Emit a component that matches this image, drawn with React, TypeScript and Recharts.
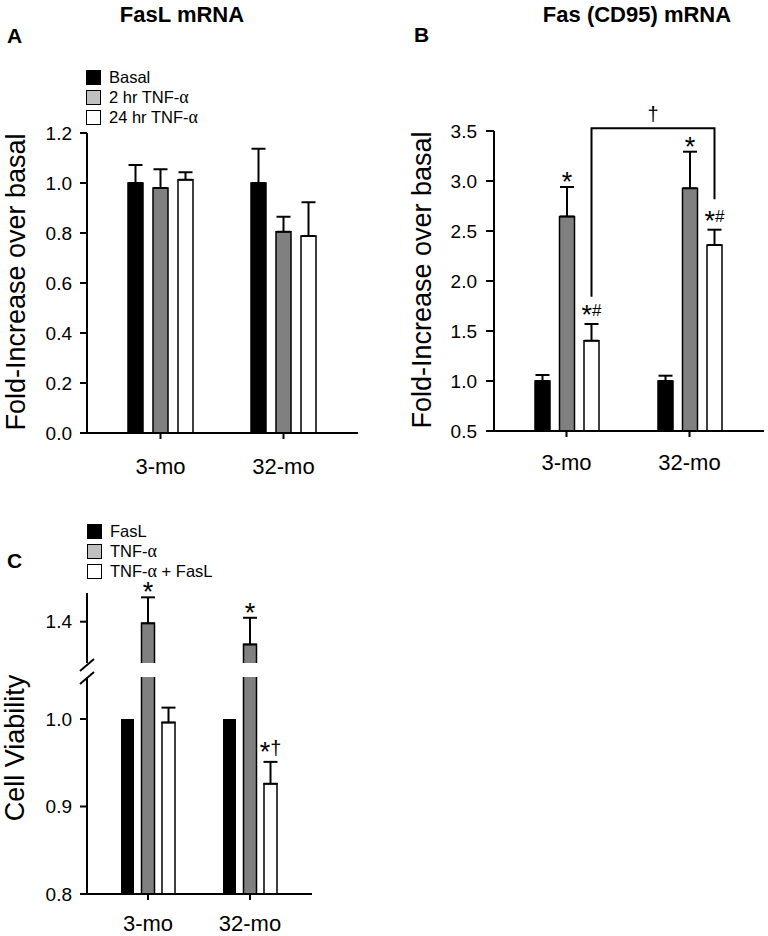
import { Bar, BarChart, ErrorBar, LabelList, Legend, XAxis, YAxis } from "recharts";

const FONT = '"Liberation Sans", Arial, Helvetica, sans-serif';
const SERIF = '"Liberation Serif", "Times New Roman", serif';
const BLACK = "#000000";
const GRAY = "#808080";
const LEGEND_GRAY = "#c0c0c0";
const WHITE = "#ffffff";

const categories = ["3-mo", "32-mo"];

// A: FasL mRNA
const fasLSeries = ["Basal", "2 hr TNF-α", "24 hr TNF-α"];
const fasLBasal = [1.0, 1.0];
const fasLBasalErr = [0.072, 0.137];
const fasL2hr = [0.98, 0.805];
const fasL2hrErr = [0.075, 0.06];
const fasL24hr = [1.013, 0.788];
const fasL24hrErr = [0.03, 0.135];
const fasLTicks = [0, 0.2, 0.4, 0.6, 0.8, 1.0, 1.2];

// B: Fas (CD95) mRNA
const fasBasal = [1.0, 1.0];
const fasBasalErr = [0.06, 0.053];
const fas2hr = [2.645, 2.927];
const fas2hrErr = [0.295, 0.366];
const fas24hr = [1.403, 2.36];
const fas24hrErr = [0.167, 0.153];
const fas2hrMarks = ["*", "*"];
const fas24hrMarks = ["*#", "*#"];
const fasBracketTop = 3.527;
const fasBracketEnds = [1.843, 2.817];
const fasBracketMark = "†";
const fasTicks = [0.5, 1.0, 1.5, 2.0, 2.5, 3.0, 3.5];

// C: cell viability (broken axis)
const viabSeries = ["FasL", "TNF-α", "TNF-α + FasL"];
const viabFasL = [1.0, 1.0];
const viabTnf = [1.392, 1.29];
const viabTnfErr = [0.126, 0.129];
const viabBoth = [0.996, 0.926];
const viabBothErr = [0.017, 0.025];
const viabTnfMarks = ["*", "*"];
const viabBothMarks = ["", "*†"];
const viabLowTicks = [0.8, 0.9, 1.0];
const viabHighTicks = [1.4];

const FAS_BASE = 0.5;
const VIAB_LOW_DOMAIN: [number, number] = [0.8, 1.048];
const VIAB_HIGH_DOMAIN: [number, number] = [1.2, 1.539];

const fasLData = categories.map((cat, i) => ({
  cat,
  basal: fasLBasal[i],
  basalErr: [0, fasLBasalErr[i]],
  tnf2: fasL2hr[i],
  tnf2Err: [0, fasL2hrErr[i]],
  tnf24: fasL24hr[i],
  tnf24Err: [0, fasL24hrErr[i]],
}));

const fasData = categories.map((cat, i) => ({
  cat,
  basal: fasBasal[i],
  basalErr: [0, fasBasalErr[i]],
  tnf2: fas2hr[i],
  tnf2Err: [0, fas2hrErr[i]],
  tnf24: fas24hr[i],
  tnf24Err: [0, fas24hrErr[i]],
}));

const viabLowData = categories.map((cat, i) => ({
  cat,
  fasl: viabFasL[i],
  tnf: viabTnf[i],
  both: viabBoth[i],
  bothErr: [0, viabBothErr[i]],
}));

// upper segment only carries the TNF bars
const viabHighData = categories.map((cat, i) => ({
  cat,
  tnf: viabTnf[i],
  tnfErr: [0, viabTnfErr[i]],
}));

const AXIS = { stroke: BLACK, strokeWidth: 2 };
const YTICK = { fill: BLACK, fontSize: 19, fontFamily: FONT };
const XTICK = { fill: BLACK, fontSize: 22, fontFamily: FONT };
const fmt = (v: number) => v.toFixed(1);

function withAlpha(label: string) {
  const parts = label.split("α");
  return parts.map((p, i) => (
    <span key={i}>
      {p}
      {i < parts.length - 1 && (
        <span style={{ fontFamily: SERIF, fontSize: 18 }}>α</span>
      )}
    </span>
  ));
}

// legend drawn from the series arrays (recharts sorts its payload by name)
function makeLegend(labels: string[], colors: string[]) {
  return () => (
    <div style={{ fontFamily: FONT, fontSize: 16.5, color: BLACK }}>
      {labels.map((label, i) => (
        <div
          key={label}
          style={{ display: "flex", alignItems: "center", height: 20, whiteSpace: "nowrap" }}
        >
          <span
            style={{
              display: "inline-block",
              width: 13,
              height: 13,
              background: colors[i],
              border: "1.5px solid #000",
              marginRight: 8,
            }}
          />
          <span>{withAlpha(label)}</span>
        </div>
      ))}
    </div>
  );
}

function barBox(props: any) {
  const vb = props.viewBox ?? {};
  return {
    x: Number(vb.x ?? props.x),
    y: Number(vb.y ?? props.y),
    w: Number(vb.width ?? props.width),
    h: Number(vb.height ?? props.height),
  };
}

// significance marks; `bottom` is where the ink of "*" and "#" ends
const MARK_SIZE: Record<string, number> = { "*": 27, "#": 17, "†": 20 };
const MARK_DROP: Record<string, number> = { "*": 8, "#": 0, "†": 2 };

function MarkText({ cx, bottom, mark }: { cx: number; bottom: number; mark: string }) {
  const chars = mark.split("");
  let shift = 0;
  return (
    <text x={cx} y={bottom} textAnchor="middle" fontFamily={FONT} fill={BLACK}>
      {chars.map((c, k) => {
        const target = MARK_DROP[c] ?? 0;
        const dy = target - shift;
        shift = target;
        return (
          <tspan key={k} fontSize={MARK_SIZE[c] ?? 19} dy={dy}>
            {c}
          </tspan>
        );
      })}
    </text>
  );
}

function makeMarkLabel(values: number[], errors: number[], marks: string[], base: number) {
  return (props: any) => {
    const i = props.index ?? 0;
    const mark = marks[i];
    if (!mark) return null;
    const { x, y, w, h } = barBox(props);
    const ppu = h / (values[i] - base);
    const errTop = y - errors[i] * ppu;
    const gap = mark.length > 1 ? 9 : 4;
    return <MarkText cx={x + w / 2} bottom={errTop - gap} mark={mark} />;
  };
}

let bracketLeftX = 0;
const renderFas24Label = (props: any) => {
  const i = props.index ?? 0;
  const { x, y, w, h } = barBox(props);
  const ppu = h / (fas24hr[i] - FAS_BASE);
  const cx = x + w / 2;
  const yOf = (v: number) => y + h - (v - FAS_BASE) * ppu;
  const errTop = yOf(fas24hr[i] + fas24hrErr[i]);
  if (i === 0) bracketLeftX = cx;
  const top = yOf(fasBracketTop);
  return (
    <g>
      <MarkText cx={cx} bottom={errTop - 8} mark={fas24hrMarks[i]} />
      {i === 1 && (
        <g>
          <path
            d={`M${bracketLeftX},${yOf(fasBracketEnds[0])} V${top} H${cx} V${yOf(fasBracketEnds[1])}`}
            fill="none"
            stroke={BLACK}
            strokeWidth={2}
          />
          <text
            x={(bracketLeftX + cx) / 2}
            y={top - 7}
            textAnchor="middle"
            fontFamily={FONT}
            fontSize={20}
            fill={BLACK}
          >
            {fasBracketMark}
          </text>
        </g>
      )}
    </g>
  );
};

// upper broken-axis bar: no bottom edge
const OpenBottomBar = (props: any) => {
  const { x, y, width, height, fill } = props;
  if (!height || height <= 0) return null;
  return (
    <g>
      <rect x={x} y={y} width={width} height={height} fill={fill} />
      <path
        d={`M${x},${y + height} V${y} H${x + width} V${y + height}`}
        fill="none"
        stroke={BLACK}
        strokeWidth={1.5}
      />
    </g>
  );
};

export default function App() {
  return (
    <div
      style={{
        position: "absolute",
        left: 0,
        top: 0,
        width: 768,
        height: 936,
        background: WHITE,
        fontFamily: FONT,
      }}
    >
      {/* A */}
      <div style={{ position: "absolute", left: 0, top: 0 }}>
        <BarChart
          width={384}
          height={500}
          data={fasLData}
          margin={{ top: 133, right: 26, bottom: 7, left: 0 }}
          barGap={10}
          barSize={15}
        >
          <XAxis
            dataKey="cat"
            height={60}
            padding={{ left: 12, right: 13 }}
            tickSize={6}
            tickMargin={19}
            axisLine={AXIS}
            tickLine={AXIS}
            tick={XTICK}
            interval={0}
          />
          <YAxis
            width={87}
            domain={[0, 1.2]}
            ticks={fasLTicks}
            tickFormatter={fmt}
            tickSize={7}
            tickMargin={8}
            axisLine={AXIS}
            tickLine={AXIS}
            tick={YTICK}
          />
          <Legend
            layout="horizontal"
            verticalAlign="middle"
            align="center"
            wrapperStyle={{ top: 67, left: 86, width: "auto" }}
            content={makeLegend(fasLSeries, [BLACK, LEGEND_GRAY, WHITE])}
          />
          <Bar dataKey="basal" name={fasLSeries[0]} fill={BLACK} stroke={BLACK} strokeWidth={1.5} isAnimationActive={false}>
            <ErrorBar dataKey="basalErr" width={7} strokeWidth={2} stroke={BLACK} direction="y" />
          </Bar>
          <Bar dataKey="tnf2" name={fasLSeries[1]} fill={GRAY} stroke={BLACK} strokeWidth={1.5} isAnimationActive={false}>
            <ErrorBar dataKey="tnf2Err" width={7} strokeWidth={2} stroke={BLACK} direction="y" />
          </Bar>
          <Bar dataKey="tnf24" name={fasLSeries[2]} fill={WHITE} stroke={BLACK} strokeWidth={1.5} isAnimationActive={false}>
            <ErrorBar dataKey="tnf24Err" width={7} strokeWidth={2} stroke={BLACK} direction="y" />
          </Bar>
        </BarChart>
      </div>

      {/* B */}
      <div style={{ position: "absolute", left: 384, top: 0 }}>
        <BarChart
          width={384}
          height={500}
          data={fasData}
          margin={{ top: 131, right: 4, bottom: 9, left: 0 }}
          barGap={9.5}
          barSize={15}
        >
          <XAxis
            dataKey="cat"
            height={60}
            padding={{ left: 11, right: 13 }}
            tickSize={6}
            tickMargin={17}
            axisLine={AXIS}
            tickLine={AXIS}
            tick={XTICK}
            interval={0}
          />
          <YAxis
            width={110}
            domain={[FAS_BASE, 3.5]}
            ticks={fasTicks}
            tickFormatter={fmt}
            tickSize={8}
            tickMargin={9}
            axisLine={AXIS}
            tickLine={AXIS}
            tick={YTICK}
          />
          <Bar dataKey="basal" fill={BLACK} stroke={BLACK} strokeWidth={1.5} isAnimationActive={false}>
            <ErrorBar dataKey="basalErr" width={7} strokeWidth={2} stroke={BLACK} direction="y" />
          </Bar>
          <Bar dataKey="tnf2" fill={GRAY} stroke={BLACK} strokeWidth={1.5} isAnimationActive={false}>
            <ErrorBar dataKey="tnf2Err" width={7} strokeWidth={2} stroke={BLACK} direction="y" />
            <LabelList dataKey="tnf2" content={makeMarkLabel(fas2hr, fas2hrErr, fas2hrMarks, FAS_BASE)} />
          </Bar>
          <Bar dataKey="tnf24" fill={WHITE} stroke={BLACK} strokeWidth={1.5} isAnimationActive={false}>
            <ErrorBar dataKey="tnf24Err" width={7} strokeWidth={2} stroke={BLACK} direction="y" />
            <LabelList dataKey="tnf24" content={renderFas24Label} />
          </Bar>
        </BarChart>
      </div>

      {/* C upper segment */}
      <div style={{ position: "absolute", left: 0, top: 500 }}>
        <BarChart
          width={384}
          height={170}
          data={viabHighData}
          margin={{ top: 93, right: 72, bottom: 7, left: 0 }}
          barGap={7.5}
          barSize={13}
        >
          <XAxis dataKey="cat" hide padding={{ left: 10, right: 11 }} />
          <YAxis
            width={87}
            domain={VIAB_HIGH_DOMAIN}
            ticks={viabHighTicks}
            tickFormatter={fmt}
            tickSize={7}
            tickMargin={8}
            axisLine={AXIS}
            tickLine={AXIS}
            tick={YTICK}
          />
          <Bar dataKey="fasl" fill={BLACK} isAnimationActive={false} />
          <Bar dataKey="tnf" fill={GRAY} shape={OpenBottomBar} isAnimationActive={false}>
            <ErrorBar dataKey="tnfErr" width={7} strokeWidth={2} stroke={BLACK} direction="y" />
            <LabelList
              dataKey="tnf"
              content={makeMarkLabel(viabTnf, viabTnfErr, viabTnfMarks, VIAB_HIGH_DOMAIN[0])}
            />
          </Bar>
          <Bar dataKey="both" fill={WHITE} isAnimationActive={false} />
        </BarChart>
      </div>

      {/* C lower segment */}
      <div style={{ position: "absolute", left: 0, top: 500 }}>
        <BarChart
          width={384}
          height={436}
          data={viabLowData}
          margin={{ top: 177, right: 72, bottom: 2, left: 0 }}
          barGap={7.5}
          barSize={13}
        >
          <XAxis
            dataKey="cat"
            height={40}
            padding={{ left: 10, right: 11 }}
            tickSize={6}
            tickMargin={15}
            axisLine={AXIS}
            tickLine={AXIS}
            tick={XTICK}
            interval={0}
          />
          <YAxis
            width={87}
            domain={VIAB_LOW_DOMAIN}
            allowDataOverflow
            ticks={viabLowTicks}
            tickFormatter={fmt}
            tickSize={7}
            tickMargin={8}
            axisLine={AXIS}
            tickLine={AXIS}
            tick={YTICK}
          />
          <Legend
            layout="horizontal"
            verticalAlign="middle"
            align="center"
            wrapperStyle={{ top: 21, left: 87, width: "auto" }}
            content={makeLegend(viabSeries, [BLACK, LEGEND_GRAY, WHITE])}
          />
          <Bar dataKey="fasl" name={viabSeries[0]} fill={BLACK} isAnimationActive={false} />
          <Bar dataKey="tnf" name={viabSeries[1]} fill={GRAY} stroke={BLACK} strokeWidth={1.5} isAnimationActive={false} />
          <Bar dataKey="both" name={viabSeries[2]} fill={WHITE} stroke={BLACK} strokeWidth={1.5} isAnimationActive={false}>
            <ErrorBar dataKey="bothErr" width={7} strokeWidth={2} stroke={BLACK} direction="y" />
            <LabelList
              dataKey="both"
              content={makeMarkLabel(viabBoth, viabBothErr, viabBothMarks, VIAB_LOW_DOMAIN[0])}
            />
          </Bar>
        </BarChart>
      </div>

      {/* titles, panel letters, axis titles, axis break */}
      <svg
        width={768}
        height={936}
        style={{ position: "absolute", left: 0, top: 0, pointerEvents: "none" }}
      >
        <g fontFamily={FONT} fill={BLACK}>
          <text x={182} y={22} textAnchor="middle" fontSize={22} fontWeight="bold">
            FasL mRNA
          </text>
          <text x={637} y={22} textAnchor="middle" fontSize={22} fontWeight="bold">
            Fas (CD95) mRNA
          </text>
          <text x={7} y={43} fontSize={21} fontWeight="bold">A</text>
          <text x={414} y={42} fontSize={21} fontWeight="bold">B</text>
          <text x={7} y={568} fontSize={21} fontWeight="bold">C</text>
          <text transform="translate(24.5 282) rotate(-90)" textAnchor="middle" fontSize={27}>
            Fold-Increase over basal
          </text>
          <text transform="translate(430.5 280) rotate(-90)" textAnchor="middle" fontSize={27}>
            Fold-Increase over basal
          </text>
          <text transform="translate(24 748) rotate(-90)" textAnchor="middle" fontSize={27}>
            Cell Viability
          </text>
        </g>
        <line x1={80} y1={671} x2={94} y2={659} stroke={BLACK} strokeWidth={2} />
        <line x1={80} y1={684} x2={94} y2={672} stroke={BLACK} strokeWidth={2} />
      </svg>
    </div>
  );
}
